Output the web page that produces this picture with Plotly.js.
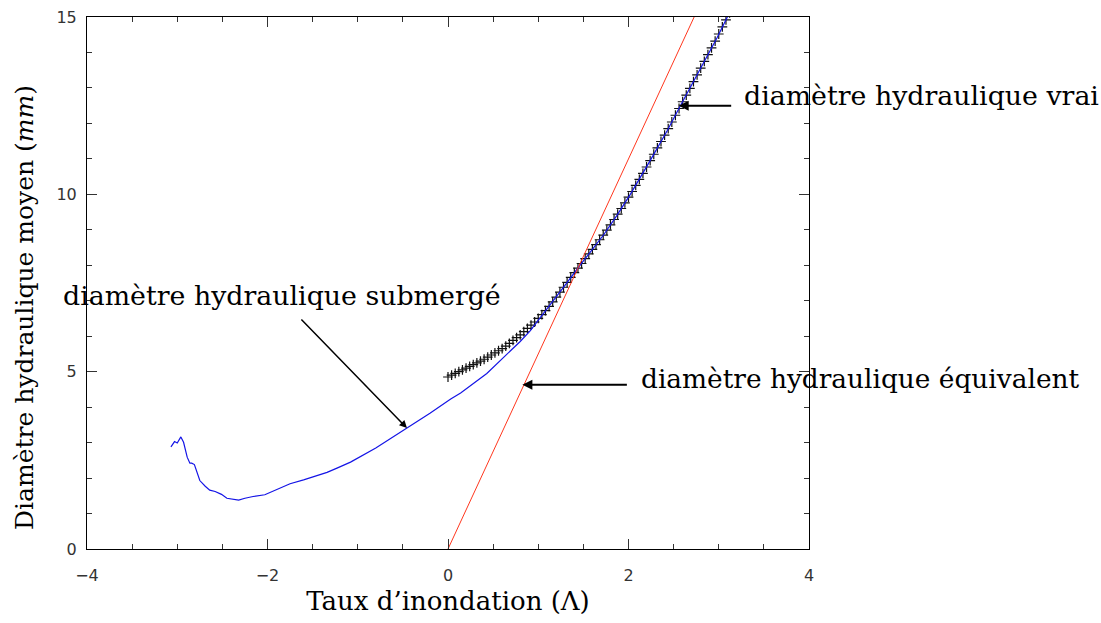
<!DOCTYPE html>
<html>
<head>
<meta charset="utf-8">
<script src="https://cdn.plot.ly/plotly-3.0.1.min.js"></script>
<style>html,body{margin:0;padding:0;background:#fff;}#chart{width:1101px;height:623px;}</style>
</head>
<body>
<div id="chart"></div>
<script>
// Red line: equivalent hydraulic diameter
const equivX = [0, 3.0];
const equivY = [0, 16.5];

// Blue curve: submerged hydraulic diameter
const submX = [-3.07,-3.03,-3.00,-2.96,-2.93,-2.89,-2.86,-2.84,-2.81,-2.78,-2.75,-2.69,-2.64,-2.58,-2.51,-2.45,-2.39,-2.32,-2.25,-2.16,-2.03,-1.90,-1.75,-1.60,-1.49,-1.34,-1.23,-1.08,-0.80,-0.455,-0.20,0.03,0.14,0.43,0.80,0.91,1.00,1.16,1.30,1.43,1.58,1.725,1.87,2.02,2.24,2.43,2.575,2.72,2.87,2.98,3.09,3.15];
const submY = [2.88,3.03,2.99,3.16,3.01,2.59,2.42,2.42,2.38,2.14,1.93,1.77,1.66,1.62,1.54,1.43,1.41,1.38,1.43,1.48,1.53,1.67,1.84,1.95,2.03,2.16,2.28,2.45,2.85,3.41,3.83,4.23,4.40,4.95,5.85,6.15,6.45,6.95,7.45,7.89,8.38,8.86,9.40,10.0,10.95,11.8,12.5,13.18,13.89,14.41,14.97,15.3];

// Crosses: true hydraulic diameter
const trueX = [0.00,0.04,0.08,0.12,0.16,0.20,0.24,0.28,0.32,0.36,0.40,0.44,0.48,0.52,0.56,0.60,0.64,0.68,0.72,0.76,0.80,0.84,0.88,0.92,0.96,1.00,1.04,1.08,1.12,1.16,1.20,1.24,1.28,1.32,1.36,1.40,1.44,1.48,1.52,1.56,1.60,1.64,1.68,1.72,1.76,1.80,1.84,1.88,1.92,1.96,2.00,2.04,2.08,2.12,2.16,2.20,2.24,2.28,2.32,2.36,2.40,2.44,2.48,2.52,2.56,2.60,2.64,2.68,2.72,2.76,2.80,2.84,2.88,2.92,2.96,3.00,3.04,3.08,3.12];
const trueY = [4.85,4.90,4.95,5.00,5.05,5.10,5.15,5.20,5.25,5.30,5.35,5.41,5.47,5.53,5.59,5.65,5.72,5.80,5.88,5.96,6.04,6.13,6.22,6.31,6.40,6.50,6.61,6.72,6.84,6.97,7.10,7.24,7.38,7.52,7.66,7.79,7.92,8.05,8.19,8.32,8.45,8.58,8.72,8.85,8.99,9.14,9.29,9.44,9.60,9.76,9.92,10.08,10.25,10.42,10.59,10.77,10.95,11.13,11.31,11.49,11.67,11.85,12.04,12.23,12.42,12.61,12.80,12.99,13.18,13.37,13.56,13.75,13.94,14.13,14.32,14.52,14.72,14.92,15.12];

const xTicks = [-4, -2, 0, 2, 4];
const yTicks = [0, 5, 10, 15];

const labels = {
  vrai: "diamètre hydraulique vrai",
  equiv: "diamètre hydraulique équivalent",
  subm: "diamètre hydraulique submergé",
  xTitle: "Taux d’inondation (Λ)",
  yTitle: "Diamètre hydraulique moyen (<i>mm</i>)"
};

const serif = {family: "DejaVu Serif", size: 26.8, color: "#000"};
const serifEq = {family: "DejaVu Serif", size: 26.4, color: "#000"};
const serifX = {family: "DejaVu Serif", size: 26, color: "#000"};
const serifY = {family: "DejaVu Serif", size: 25, color: "#000"};
const tickFont = {family: "DejaVu Sans", size: 16, color: "#333"};

const traces = [
  {x: trueX, y: trueY, mode: "markers", type: "scatter",
   marker: {symbol: "cross-thin", size: 7, color: "#000", line: {color: "#111", width: 1.2}},
   cliponaxis: true, hoverinfo: "skip"},
  {x: submX, y: submY, mode: "lines", type: "scatter",
   line: {color: "rgb(20,20,230)", width: 1.2}, hoverinfo: "skip"},
  {x: equivX, y: equivY, mode: "lines", type: "scatter",
   line: {color: "rgb(255,55,30)", width: 1}, hoverinfo: "skip"}
];

const axisCommon = {
  showgrid: false, zeroline: false, showline: true, linecolor: "#000", linewidth: 1,
  mirror: "allticks", ticks: "inside", ticklen: 10, tickcolor: "#333", tickwidth: 1,
  tickfont: tickFont
};

const layout = {
  width: 1101, height: 623,
  margin: {l: 87, r: 292, t: 17, b: 74},
  paper_bgcolor: "#fff", plot_bgcolor: "#fff",
  showlegend: false,
  xaxis: Object.assign({}, axisCommon, {
    range: [-4, 4], tickvals: xTicks, ticktext: xTicks.map(v => v < 0 ? "\u2212" + Math.abs(v) : String(v)),
    ticklabelstandoff: 12,
    minor: {ticks: "inside", ticklen: 5, dtick: 0.5, tickcolor: "#333", showgrid: false},
    title: {text: labels.xTitle, font: serifX, standoff: 7}
  }),
  yaxis: Object.assign({}, axisCommon, {
    range: [0, 15], tickvals: yTicks, ticktext: yTicks.map(String),
    ticklabelstandoff: 6,
    minor: {ticks: "inside", ticklen: 5, dtick: 1, tickcolor: "#333", showgrid: false}
  }),
  annotations: [
    {xref: "paper", yref: "paper", x: -0.0859, y: 0.455, text: labels.yTitle, textangle: -90,
     showarrow: false, font: serifY, xanchor: "center", yanchor: "middle"},
    {xref: "paper", yref: "paper", x: 0.9072, y: 0.852, text: labels.vrai, showarrow: false,
     font: serif, xanchor: "left", yanchor: "middle"},
    {xref: "paper", yref: "paper", x: 0.765, y: 0.320, text: labels.equiv, showarrow: false,
     font: serifEq, xanchor: "left", yanchor: "middle"},
    {xref: "paper", yref: "paper", x: -0.0360, y: 0.476, text: labels.subm, showarrow: false,
     font: serif, xanchor: "left", yanchor: "middle"},
    {xref: "x", yref: "y", x: 2.556, y: 12.5, ax: 54, ay: 0, text: "", showarrow: true,
     arrowhead: 2, arrowsize: 1, arrowwidth: 2, arrowcolor: "#000"},
    {xref: "x", yref: "y", x: 0.824, y: 4.63, ax: 106, ay: 0, text: "", showarrow: true,
     arrowhead: 2, arrowsize: 1, arrowwidth: 2, arrowcolor: "#000"},
    {xref: "x", yref: "y", x: -0.455, y: 3.41, ax: -107, ay: -110, text: "", showarrow: true,
     arrowhead: 2, arrowsize: 1, arrowwidth: 1.5, arrowcolor: "#000"}
  ]
};

Plotly.newPlot("chart", traces, layout, {staticPlot: true, displayModeBar: false});
</script>
</body>
</html>
